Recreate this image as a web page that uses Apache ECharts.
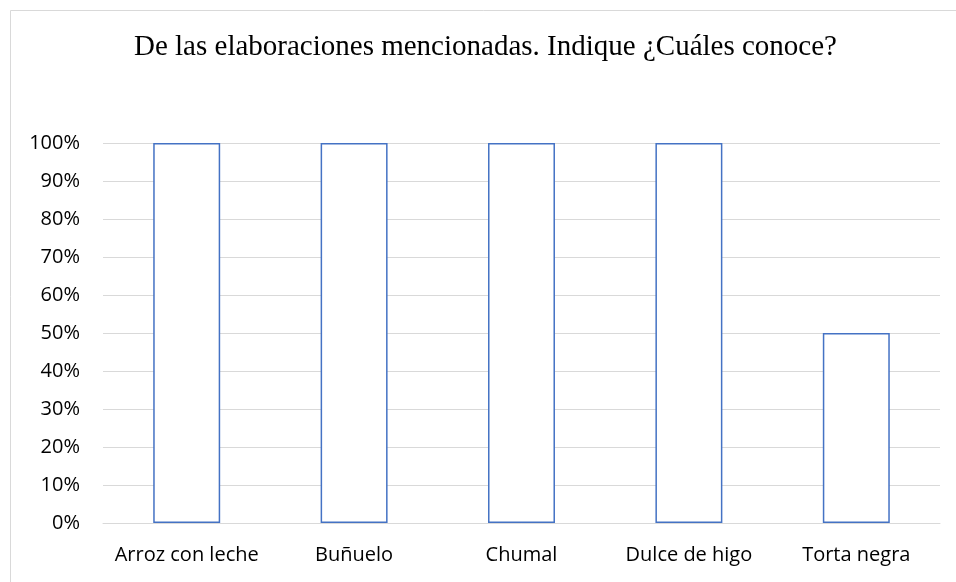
<!DOCTYPE html>
<html>
<head>
<meta charset="utf-8">
<script src="https://cdn.jsdelivr.net/npm/echarts@6/dist/echarts.min.js"></script>
<style>
  html, body { margin: 0; padding: 0; background: #ffffff; }
  #chart { width: 956px; height: 582px; }
</style>
</head>
<body>
<div id="chart"></div>
<script>
// Categories and share of respondents who know each preparation (%)
const categories = ['Arroz con leche', 'Buñuelo', 'Chumal', 'Dulce de higo', 'Torta negra'];
const knownPct = [100, 100, 100, 100, 50];
const titleText = 'De las elaboraciones mencionadas. Indique ¿Cuáles conoce?';

const chart = echarts.init(document.getElementById('chart'), null, { renderer: 'canvas' });

const labelFont = '"Open Sans", "Noto Sans", sans-serif';

chart.setOption({
  backgroundColor: '#ffffff',
  animation: false,
  title: {
    text: titleText,
    left: 134,
    top: 33,
    padding: 0,
    textStyle: {
      fontFamily: '"Liberation Serif", "Times New Roman", serif',
      fontWeight: 'normal',
      fontSize: 29,
      color: '#000000'
    }
  },
  graphic: [{
    type: 'rect',
    shape: { x: 10.5, y: 10.5, width: 1000, height: 1000 },
    style: { fill: 'none', stroke: '#d9d9d9', lineWidth: 1 },
    silent: true
  }],
  grid: { left: 103, right: 16, top: 143, bottom: 59, containLabel: false },
  xAxis: {
    type: 'category',
    data: categories,
    axisLine: { show: true, lineStyle: { color: '#d9d9d9', width: 1 } },
    axisTick: { show: false },
    axisLabel: {
      interval: 0,
      fontFamily: labelFont,
      fontSize: 20,
      color: '#000000',
      margin: 22
    },
    z: 5
  },
  yAxis: {
    type: 'value',
    min: 0,
    max: 100,
    interval: 10,
    axisLine: { show: false },
    axisTick: { show: false },
    splitLine: { lineStyle: { color: '#d9d9d9', width: 1 } },
    axisLabel: {
      formatter: '{value}%',
      fontFamily: labelFont,
      fontSize: 20,
      color: '#000000',
      margin: 23
    }
  },
  series: [{
    type: 'bar',
    data: knownPct,
    barWidth: '40%',
    itemStyle: {
      color: '#ffffff',
      borderColor: '#4472c4',
      borderWidth: 1.5
    }
  }]
});
</script>
</body>
</html>
